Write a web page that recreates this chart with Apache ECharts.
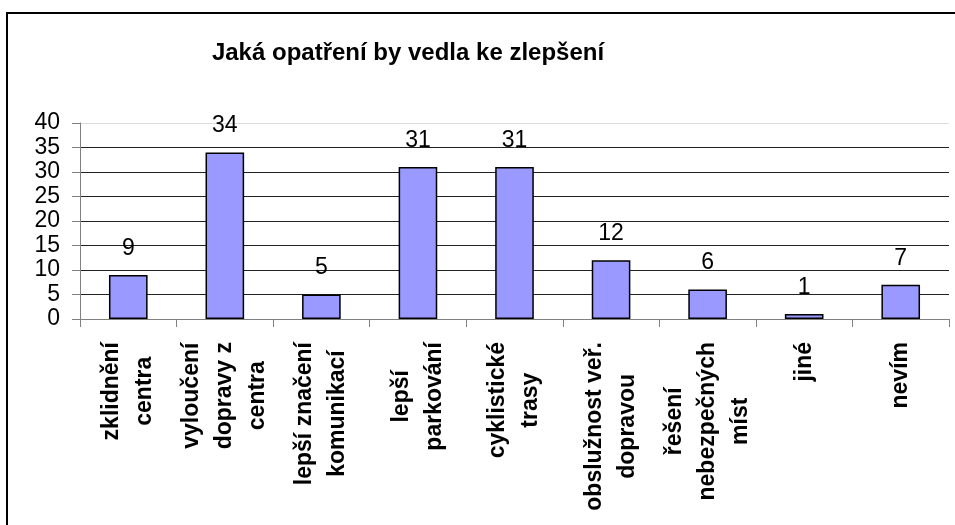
<!DOCTYPE html>
<html>
<head>
<meta charset="utf-8">
<script src="https://cdn.jsdelivr.net/npm/echarts@6/dist/echarts.min.js"></script>
<style>
	html, body { margin: 0; padding: 0; background: #fff; }
	#main { width: 955px; height: 525px; }
</style>
</head>
<body>
<div id="main"></div>
<script>
var categories = ['zklidnění\ncentra', 'vyloučení\ndopravy z\ncentra', 'lepší značení\nkomunikací', 'lepší\nparkování',
	'cyklistické\ntrasy', 'obslužnost veř.\ndopravou', 'řešení\nnebezpečných\nmíst', 'jiné', 'nevím'];
var values = [9, 34, 5, 31, 31, 12, 6, 1, 7];
var yTicks = [0, 5, 10, 15, 20, 25, 30, 35, 40];

var font = 'Liberation Sans, Arial, sans-serif';

// gridline colours from bottom to top, the top one is light
var gridColors = yTicks.map(function(v) {
	return v == 40 ? '#dddddd' : '#222222';
});

var myChart = echarts.init(document.getElementById('main'));
var option = {
	animation: false,
	backgroundColor: '#fff',
	graphic: [{
		type: 'rect',
		shape: { x: 7, y: 13, width: 1000, height: 600 },
		style: { fill: 'none', stroke: '#000', lineWidth: 2 },
		silent: true
	}],
	title: {
		text: 'Jaká opatření by vedla ke zlepšení',
		left: 403,
		top: 36,
		textAlign: 'center',
		textStyle: {
			fontFamily: font,
			fontSize: 24,
			fontWeight: 'bold',
			color: '#000'
		}
	},
	grid: {
		left: 80,
		right: 6,
		top: 123,
		bottom: 206
	},
	xAxis: {
		type: 'category',
		data: categories,
		axisLine: { lineStyle: { color: '#808080', width: 1 } },
		axisTick: { show: true, length: 8, lineStyle: { color: '#808080' } },
		axisLabel: {
			interval: 0,
			rotate: 90,
			margin: 23,
			formatter: function(v) {
				return v.split('\n').map(function(s) {
					return '{c|' + s + '}';
				}).join('\n');
			},
			rich: {
				c: {
					align: 'center',
					fontFamily: font,
					fontSize: 23,
					fontWeight: 'bold',
					color: '#000',
					lineHeight: 33
				}
			}
		}
	},
	yAxis: {
		type: 'value',
		min: 0,
		max: 40,
		interval: 5,
		axisLine: { show: true, lineStyle: { color: '#808080', width: 1 } },
		axisTick: { show: true, length: 8, lineStyle: { color: '#808080' } },
		axisLabel: {
			margin: 20,
			fontFamily: font,
			fontSize: 23,
			color: '#000'
		},
		splitLine: {
			show: true,
			lineStyle: { color: gridColors, width: 1 }
		}
	},
	series: [{
		type: 'bar',
		data: values,
		barWidth: '40%',
		itemStyle: {
			color: '#9999ff',
			borderColor: '#000',
			borderWidth: 1.5
		},
		label: {
			show: true,
			position: 'top',
			distance: 15,
			fontFamily: font,
			fontSize: 23,
			color: '#000'
		}
	}]
};
myChart.setOption(option);
</script>
</body>
</html>
